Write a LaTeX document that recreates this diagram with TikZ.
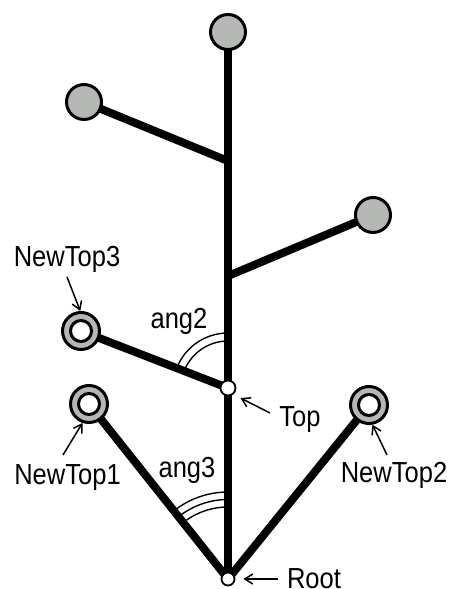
\documentclass[tikz,border=0pt]{standalone}
\usepackage{fontspec}
\setmainfont{Liberation Sans}[FakeStretch=0.88]
\usetikzlibrary{arrows.meta,backgrounds}
\definecolor{nodegray}{RGB}{181,183,181}
\begin{document}
\begin{tikzpicture}[x=1pt,y=1pt,
  branch/.style={line width=8pt},
  leaf/.style={circle,draw,fill=nodegray,line width=3pt,minimum size=35pt,inner sep=0pt},
  newtop/.style={circle,draw,fill=nodegray,line width=3pt,minimum size=37pt,inner sep=0pt},
  hole/.style={circle,draw,fill=white,line width=3pt,minimum size=21pt,inner sep=0pt},
  joint/.style={circle,draw,fill=white,line width=1.8pt,minimum size=15pt,inner sep=0pt},
  lbl/.style={font=\fontsize{29}{29}\selectfont,inner sep=0pt,anchor=base},
  arr/.style={line width=1.5pt,-{Straight Barb[length=8pt,width=10pt]}},
  angarc/.style={line width=1.4pt}]
\useasboundingbox (0,0) rectangle (453,589);
% nodes
\node[leaf] (t) at (228,557) {};
\node[leaf] (l) at (84,487) {};
\node[leaf] (r) at (373,374) {};
\coordinate (lj) at (228,428);
\coordinate (rj) at (228,313);
\node[joint] (top) at (228,201) {};
\node[joint,minimum size=13pt] (root) at (228,10) {};
\node[newtop] (n3) at (81,258) {};
\node[hole] (n3h) at (n3.center) {};
\node[newtop] (n1) at (89,185) {};
\node[hole] (n1h) at (n1.center) {};
\node[newtop] (n2) at (369,184) {};
\node[hole] (n2h) at (n2.center) {};
% branches
\begin{pgfonlayer}{background}
\draw[branch] (t.center) -- (root.center);
\draw[branch] (l.center) -- (lj);
\draw[branch] (r.center) -- (rj);
\draw[branch] (n3.center) -- (top.center);
\draw[branch] (n1.center) -- (root.center);
\draw[branch] (n2.center) -- (root.center);
\end{pgfonlayer}
% angle arcs
\draw[angarc] ([shift={(90:47)}]top.center) arc[start angle=90,end angle=158.8,radius=47];
\draw[angarc] ([shift={(90:55)}]top.center) arc[start angle=90,end angle=158.8,radius=55];
\draw[angarc] ([shift={(90:72)}]root.center) arc[start angle=90,end angle=128.5,radius=72];
\draw[angarc] ([shift={(90:79.5)}]root.center) arc[start angle=90,end angle=128.5,radius=79.5];
\draw[angarc] ([shift={(90:87)}]root.center) arc[start angle=90,end angle=128.5,radius=87];
% labels
\node[lbl] (ln3) at (67,322) {NewTop3};
\node[lbl] (lang2) at (179,260) {ang2};
\node[lbl] (ln1) at (67.5,104) {NewTop1};
\node[lbl] (lang3) at (187,111) {ang3};
\node[lbl] (ltop) at (300,162) {Top};
\node[lbl] (ln2) at (394,106) {NewTop2};
\node[lbl] (lroot) at (314,0) {Root};
% pointer arrows
\coordinate (a3) at (67,312);
\draw[arr] (a3) -- (n3.92);
\coordinate (a1) at (63,134);
\draw[arr] (a1) -- (n1.251);
\coordinate (at) at (270,176);
\draw[arr,shorten >=8pt] (at) -- (top.-50);
\coordinate (a2) at (387,134);
\draw[arr] (a2) -- (n2.-80);
\coordinate (ar) at (278,10);
\draw[arr,shorten >=8pt] (ar) -- (root.0);
\end{tikzpicture}
\end{document}
